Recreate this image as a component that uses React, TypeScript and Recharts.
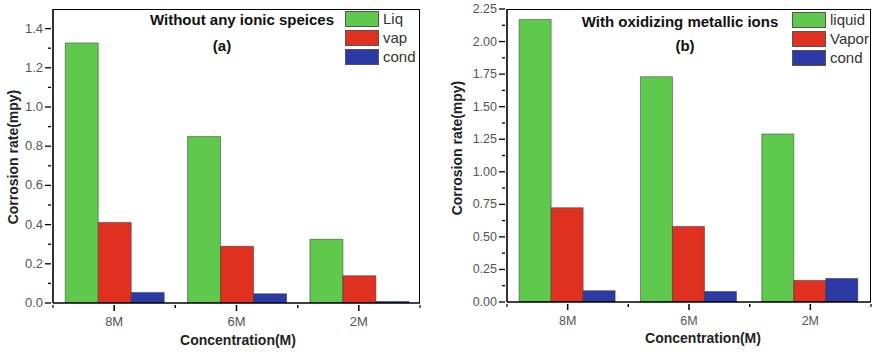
import React from 'react';
import { BarChart, Bar, XAxis, YAxis } from 'recharts';

// categories shared by both panels
const concentrations = ['8M', '6M', '2M'];

// panel (a): without any ionic species
const liqA = [1.327, 0.849, 0.325];
const vapA = [0.411, 0.289, 0.139];
const condA = [0.054, 0.047, 0.008];
const namesA = ['Liq', 'vap', 'cond'];
const majorTicksA = [0, 0.2, 0.4, 0.6, 0.8, 1.0, 1.2, 1.4];
const minorTicksA = [0.1, 0.3, 0.5, 0.7, 0.9, 1.1, 1.3];

// panel (b): with oxidizing metallic ions
const liqB = [2.17, 1.73, 1.29];
const vapB = [0.724, 0.58, 0.165];
const condB = [0.087, 0.08, 0.18];
const namesB = ['liquid', 'Vapor', 'cond'];
const majorTicksB = [0, 0.25, 0.5, 0.75, 1.0, 1.25, 1.5, 1.75, 2.0, 2.25];
const minorTicksB = [0.125, 0.375, 0.625, 0.875, 1.125, 1.375, 1.625, 1.875, 2.125];

const colors = ['#5ec94d', '#e0301f', '#2b3aa5'];
const FONT = '"Liberation Sans", Arial, sans-serif';
const TOP = 9;

type PanelProps = {
    width: number;
    yWidth: number;
    marginRight: number;
    marginBottom: number;
    max: number;
    major: number[];
    minor: number[];
    digits: number;
    tickSize: number;
    names: string[];
    series: number[][];
};

function YTick(props: any) {
    const { x, y, payload, major, digits, size } = props;
    const v = payload.value;
    const isMajor = major.some((m: number) => Math.abs(m - v) < 1e-6);
    const ax = x + 6; // tick props sit at the tick end, axis is 6px right
    return (
        <g>
            <line x1={ax} x2={ax - (isMajor ? 6 : 3)} y1={y} y2={y} stroke="#000" strokeWidth={1.3} />
            {isMajor && (
                <text x={ax - 8} y={y} dy={4} textAnchor="end" fontSize={size} fill="#555" fontFamily={FONT}>
                    {v.toFixed(digits)}
                </text>
            )}
        </g>
    );
}

function XTick(props: any) {
    const { x, y, payload, size } = props;
    const half = payload.offset || 60;
    const ay = y - 6;
    return (
        <g>
            <line x1={x} x2={x} y1={ay} y2={ay + 6} stroke="#000" strokeWidth={1.5} />
            <line x1={x - half} x2={x - half} y1={ay} y2={ay + 3} stroke="#000" strokeWidth={1.2} />
            <line x1={x + half} x2={x + half} y1={ay} y2={ay + 3} stroke="#000" strokeWidth={1.2} />
            <text x={x} y={ay + 21} textAnchor="middle" fontSize={size} fill="#555" fontFamily={FONT}>
                {payload.value}
            </text>
        </g>
    );
}

function LegendBoxes({ names, left, top }: { names: string[]; left: number; top: number }) {
    return (
        <div style={{ position: 'absolute', left, top, fontFamily: FONT }}>
            {names.map((n, i) => (
                <div key={n} style={{ display: 'flex', alignItems: 'center', height: 19 }}>
                    <div style={{ width: 34, height: 16, background: colors[i], border: '0.5px solid #555', boxSizing: 'border-box' }} />
                    <span style={{ marginLeft: 4, fontSize: 15, color: '#333' }}>{n}</span>
                </div>
            ))}
        </div>
    );
}

function Panel(p: PanelProps) {
    const data = concentrations.map((c, i) => ({
        c,
        s0: p.series[0][i],
        s1: p.series[1][i],
        s2: p.series[2][i],
    }));
    const ticks = [...p.major, ...p.minor].sort((a, b) => a - b);
    const plotW = p.width - p.yWidth - p.marginRight;
    const plotH = 352 - TOP - p.marginBottom;
    return (
        <div style={{ position: 'relative', width: p.width, height: 352 }}>
            <BarChart
                width={p.width}
                height={352}
                data={data}
                margin={{ top: TOP, right: p.marginRight, left: 0, bottom: 0 }}
                barCategoryGap="10%"
                barGap={0}
            >
                <XAxis
                    dataKey="c"
                    axisLine={{ stroke: '#000', strokeWidth: 1.6 }}
                    tickLine={false}
                    tick={<XTick size={p.tickSize} />}
                    height={p.marginBottom}
                    interval={0}
                />
                <YAxis
                    width={p.yWidth}
                    domain={[0, p.max]}
                    ticks={ticks}
                    interval={0}
                    axisLine={{ stroke: '#000', strokeWidth: 1.6 }}
                    tickLine={false}
                    tick={<YTick major={p.major} digits={p.digits} size={p.tickSize} />}
                    allowDataOverflow
                />
                {p.names.map((n, i) => (
                    <Bar
                        key={n}
                        dataKey={'s' + i}
                        name={n}
                        fill={colors[i]}
                        stroke="#333"
                        strokeWidth={0.5}
                        isAnimationActive={false}
                    />
                ))}
            </BarChart>
            {/* top and right frame lines of the plot box */}
            <div
                style={{
                    position: 'absolute',
                    left: p.yWidth,
                    top: TOP - 0.5,
                    width: plotW,
                    height: plotH,
                    borderTop: '1.2px solid #000',
                    borderRight: '1.2px solid #000',
                    boxSizing: 'border-box',
                    pointerEvents: 'none',
                }}
            />
        </div>
    );
}

const titleStyle: React.CSSProperties = {
    position: 'absolute',
    fontFamily: FONT,
    fontWeight: 'bold',
    fontSize: 15,
    color: '#111',
    whiteSpace: 'nowrap',
    transform: 'translate(-50%, -50%)',
};

const axisTitle: React.CSSProperties = { ...titleStyle, fontSize: 14, color: '#222' };
const yTitle: React.CSSProperties = { ...axisTitle, transform: 'translate(-50%, -50%) rotate(-90deg)' };

export default function App() {
    return (
        <div style={{ position: 'absolute', left: 0, top: 0, width: 873, height: 352, background: '#fff', overflow: 'hidden' }}>
            <div style={{ position: 'absolute', left: 0, top: 0 }}>
                <Panel
                    width={440}
                    yWidth={53}
                    marginRight={20}
                    marginBottom={49}
                    max={1.5}
                    major={majorTicksA}
                    minor={minorTicksA}
                    digits={1}
                    tickSize={13}
                    names={namesA}
                    series={[liqA, vapA, condA]}
                />
            </div>
            <div style={{ position: 'absolute', left: 440, top: 0 }}>
                <Panel
                    width={433}
                    yWidth={67}
                    marginRight={2}
                    marginBottom={50}
                    max={2.25}
                    major={majorTicksB}
                    minor={minorTicksB}
                    digits={2}
                    tickSize={12.5}
                    names={namesB}
                    series={[liqB, vapB, condB]}
                />
            </div>

            <LegendBoxes names={namesA} left={345} top={9} />
            <LegendBoxes names={namesB} left={792} top={10} />

            <div style={{ ...titleStyle, left: 242, top: 19 }}>Without any ionic speices</div>
            <div style={{ ...titleStyle, left: 222, top: 45 }}>(a)</div>
            <div style={{ ...titleStyle, left: 680, top: 21 }}>With oxidizing metallic ions</div>
            <div style={{ ...titleStyle, left: 685, top: 45 }}>(b)</div>

            <div style={{ ...axisTitle, left: 238, top: 340 }}>Concentration(M)</div>
            <div style={{ ...axisTitle, left: 703, top: 338 }}>Concentration(M)</div>
            <div style={{ ...yTitle, left: 13, top: 157 }}>Corrosion rate(mpy)</div>
            <div style={{ ...yTitle, left: 457, top: 148 }}>Corrosion rate(mpy)</div>
        </div>
    );
}
